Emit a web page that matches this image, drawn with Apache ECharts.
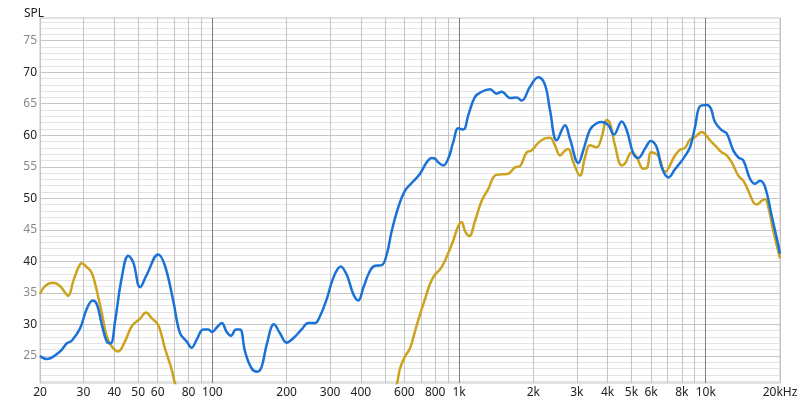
<!DOCTYPE html>
<html><head><meta charset="utf-8">
<script src="https://cdn.jsdelivr.net/npm/echarts@6/dist/echarts.min.js"></script>
<style>html,body{margin:0;padding:0;background:#fff}#c{width:800px;height:408px}</style>
</head><body><div id="c"></div>
<script>
// ---- data ----
const blueFreq = [20,21.3,24.1,25.7,26.9,29.1,30.9,32.7,34.0,35.6,37.3,38.7,40.3,42.9,45.6,47.8,50.9,54.2,60.3,64.2,69.4,73.9,78.6,82.4,86.4,91.8,96.2,99.9,104.1,109.1,114.3,118.9,124.6,129.4,135.6,144.3,152,158.4,166,177.7,187.9,200,212.8,230,244.8,260.5,273,290.7,309.2,331.2,350.2,372.6,390.4,409,435.4,456.2,485.8,509,533.2,567.2,603.6,652.4,694.4,739.4,774.4,798.6,823.6,863,904,947,992.6,1040,1090,1160,1235,1335,1421,1489,1609,1713,1794,1939,2094,2230,2336,2488,2689,2816,3044,3188,3394,3614,3786,4027,4246,4564,4782,5087,5329,5674,5984,6326,6628,7050,7503,8110,8632,9046,9482,10094,10472,10902,11604,12158,12930,13550,14200,15116,15840,16596,17390,18512,19500,20000];
const blueSpl  = [25.0,24.5,25.7,27.0,27.4,29.4,32.4,33.8,33.2,30.0,27.3,27.0,30.5,37.4,40.9,39.8,35.9,37.9,41.1,39.3,33.7,28.6,27.3,26.3,27.6,29.2,29.2,28.8,29.5,30.2,28.8,28.2,29.2,29.2,25.7,23.0,22.5,23.3,26.8,30.0,28.6,27.1,27.8,29.2,30.2,30.2,31.3,34.0,37.4,39.2,37.9,34.8,33.8,35.8,38.5,39.3,39.4,41.1,44.8,48.6,51.2,52.7,53.9,55.7,56.4,56.3,55.7,55.2,56.3,58.9,61.1,60.9,63.2,66.1,66.9,67.3,66.6,66.9,65.9,66.0,65.5,67.7,69.2,68.0,64.0,59.2,61.6,59.4,55.6,57.6,60.9,61.9,62.1,61.6,60.1,62.2,60.8,57.1,56.4,57.9,59.1,58.1,54.9,53.3,54.6,56.3,58.1,61.3,64.6,64.8,64.3,62.1,60.8,60.3,57.6,56.5,56.0,53.1,52.3,52.8,51.8,47.2,43.3,41.2];

const yellowFreq = [20,21.0,22.6,24.1,25.3,26.0,27.3,28.6,29.5,30.9,32.4,34.0,35.6,37.3,39.1,41.5,44.2,47.1,50.9,53.8,56.7,60.3,64.2,68.4,70.5,75,85,150,300,480,530,558.6,576.2,603.6,632.5,662.6,694.4,727.5,762.3,798.6,836.8,876.8,947,992.6,1024.6,1056.8,1100,1160,1235,1314,1399,1489,1583,1686,1766,1880,1970,2094,2230,2336,2448,2565,2689,2772,2904,3092,3240,3394,3614,3786,3968,4092,4286,4564,4706,5010,5250,5582,5794,6000,6424,6838,7503,7862,8236,8632,9046,9416,9630,9930,10404,11076,11604,12158,12746,13550,14200,14876,15586,16086,16860,17390,17936,18788,19500,20000];
const yellowSpl  = [34.8,36.1,36.6,36.1,35.0,34.5,36.9,39.0,39.7,39.1,38.2,35.3,31.8,28.1,26.5,25.7,27.3,29.7,30.9,31.9,31.0,29.9,26.2,22.8,20.7,18,15,10,10,14,18,20.4,23.0,24.9,26.2,28.9,31.6,34.0,36.4,37.9,38.7,40.1,43.3,45.6,46.2,44.8,44.0,46.4,49.6,51.5,53.6,53.8,53.9,54.9,55.1,57.3,57.6,58.8,59.5,59.6,58.4,56.8,57.6,57.8,55.7,53.6,56.5,58.4,58.1,59.7,62.4,61.9,58.4,55.2,55.5,57.3,56.5,54.7,54.9,57.3,56.7,54.2,56.8,57.7,58.0,59.3,59.7,60.3,60.5,60.2,59.2,58.1,57.3,56.8,55.7,53.6,52.8,51.2,49.4,49.0,49.6,49.9,48.6,44.8,42.2,40.5];

const gridFreqs = [20,30,40,50,60,70,80,90,100,200,300,400,500,600,700,800,900,1000,2000,3000,4000,5000,6000,7000,8000,9000,10000,20000];
const decadeFreqs = [100,1000,10000];
const xTickFreqs  = [20,30,40,50,60,80,100,200,300,400,600,800,1000,2000,3000,4000,5000,6000,8000,10000,20000];
const xTickLabels = ['20','30','40','50','60','80','100','200','300','400','600','800','1k','2k','3k','4k','5k','6k','8k','10k','20kHz'];
const yTicks = [25,30,35,40,45,50,55,60,65,70,75];
const yMin = 20.7, yMax = 78.6;

// ---- build ----
const toPairs = (f, v) => f.map((x, i) => [x, v[i]]);
const marks = [];
for (let d = 21; d <= 78; d++) {
  const major = d % 5 === 0;
  const item = { yAxis: d, lineStyle: { color: major ? '#c6c6c6' : '#e3e3e3', width: 1, type: 'solid' }, label: { show: false } };
  if (yTicks.includes(d)) {
    item.label = { show: true, position: 'start', formatter: String(d), color: d % 10 === 0 ? '#222' : '#8a8a8a', fontSize: 12, fontFamily: 'Noto Sans', distance: 3 };
  }
  marks.push(item);
}
gridFreqs.forEach(f => {
  const idx = xTickFreqs.indexOf(f);
  const item = { xAxis: f, lineStyle: { color: decadeFreqs.includes(f) ? '#7e7e7e' : '#c4c4c4', width: 1, type: 'solid' }, label: { show: false } };
  if (idx >= 0) {
    item.label = { show: true, position: 'start', formatter: xTickLabels[idx], color: '#222', fontSize: 12, fontFamily: 'Noto Sans', distance: 4 };
  }
  marks.push(item);
});

const chart = echarts.init(document.getElementById('c'), null, { renderer: 'canvas' });
chart.setOption({
  animation: false,
  backgroundColor: '#fff',
  title: { text: 'SPL', left: 19, top: 3, textStyle: { fontSize: 12, fontWeight: 'normal', color: '#222', fontFamily: 'Noto Sans' } },
  grid: { left: 40, right: 20, top: 18, bottom: 25, show: true, borderColor: '#c4c4c4', borderWidth: 1 },
  xAxis: { type: 'log', logBase: 10, min: 20, max: 20000, axisLine: { show: false }, axisTick: { show: false }, axisLabel: { show: false }, splitLine: { show: false }, minorSplitLine: { show: false } },
  yAxis: { type: 'value', min: yMin, max: yMax, axisLine: { show: false }, axisTick: { show: false }, axisLabel: { show: false }, splitLine: { show: false } },
  series: [
    { type: 'line', z: 0, data: [[20, 0]], showSymbol: false, lineStyle: { opacity: 0 }, silent: true,
      markLine: { z: 0, silent: true, symbol: ['none', 'none'], animation: false, data: marks } },
    { type: 'line', z: 3, name: 'yellow', data: toPairs(yellowFreq, yellowSpl), smooth: 0.4, showSymbol: false, lineStyle: { color: '#cba31f', width: 2.5 } },
    { type: 'line', z: 4, name: 'blue', data: toPairs(blueFreq, blueSpl), smooth: 0.4, showSymbol: false, lineStyle: { color: '#1a72d8', width: 2.5 } }
  ]
});
</script></body></html>
